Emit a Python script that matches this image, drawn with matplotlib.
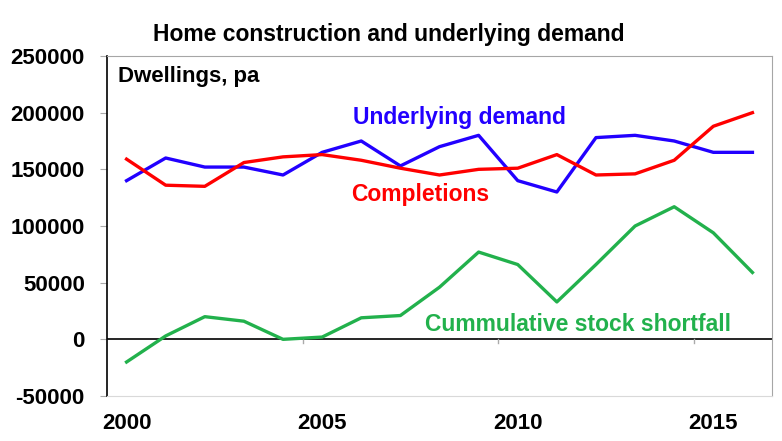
import matplotlib.pyplot as plt

plt.rcParams["font.family"] = ["Liberation Sans", "DejaVu Sans"]
plt.rcParams["font.weight"] = "bold"

years = list(range(2000, 2017))
demand = [140000, 160000, 152000, 152000, 145000, 165000, 175000, 153000, 170000,
          180000, 140000, 130000, 178000, 180000, 175000, 165000, 165000]
completions = [159000, 136000, 135000, 156000, 161000, 163000, 158000, 151000, 145000,
               150000, 151000, 163000, 145000, 146000, 158000, 188000, 200000]
shortfall = [-20000, 3000, 20000, 16000, 0, 2000, 19000, 21000, 46000,
             77000, 66000, 33000, 66000, 100000, 117000, 94000, 59000]

fig = plt.figure(figsize=(7.82, 4.41), dpi=100)
ax = fig.add_axes([107 / 782, 1 - 396 / 441, 665 / 782, 340 / 441])

ax.plot(years, demand, color="#2200ff", lw=2.4)
ax.plot(years, completions, color="#ff0000", lw=2.4)
ax.plot(years, shortfall, color="#22b14c", lw=2.4)

ax.set_xlim(1999.5, 2016.5)
ax.set_ylim(-50000, 250000)
ax.set_yticks(range(-50000, 250001, 50000))
ax.set_yticklabels([str(v) for v in range(-50000, 250001, 50000)], fontsize=16)
ax.tick_params(axis="y", length=5, color="#aaaaaa", pad=11)

# category axis crosses at zero: ticks between categories
ax.axhline(0, color="black", lw=1.2, zorder=1)
for t in [2004.5, 2009.5, 2014.5]:
    ax.plot([t, t], [0, -3500], color="#aaaaaa", lw=1, clip_on=False, zorder=1)
ax.set_xticks([2000, 2005, 2010, 2015])
ax.set_xticklabels(["2000", "2005", "2010", "2015"], fontsize=16)
ax.tick_params(axis="x", length=0, pad=12)

ax.spines["left"].set_color("black")
ax.spines["left"].set_linewidth(1.2)
for s in ["top", "right"]:
    ax.spines[s].set_color("#a6a6a6")
ax.spines["bottom"].set_color("#d9d9d9")

fig.text(389 / 782, 1 - 35 / 441, "Home construction and underlying demand",
         ha="center", va="center", fontsize=16.5, fontweight="bold")
ax.text(2000 - 0.22, 232000, "Dwellings, pa", ha="left", va="center",
        fontsize=16, fontweight="bold")
ax.text(2008.5, 195500, "Underlying demand", color="#2200ff", ha="center",
        va="center", fontsize=16.5, fontweight="bold")
ax.text(2007.5, 127500, "Completions", color="#ff0000", ha="center",
        va="center", fontsize=16.5, fontweight="bold")
ax.text(2011.55, 13500, "Cummulative stock shortfall", color="#22b14c",
        ha="center", va="center", fontsize=16.5, fontweight="bold")

fig.savefig("out.png", dpi=100)
